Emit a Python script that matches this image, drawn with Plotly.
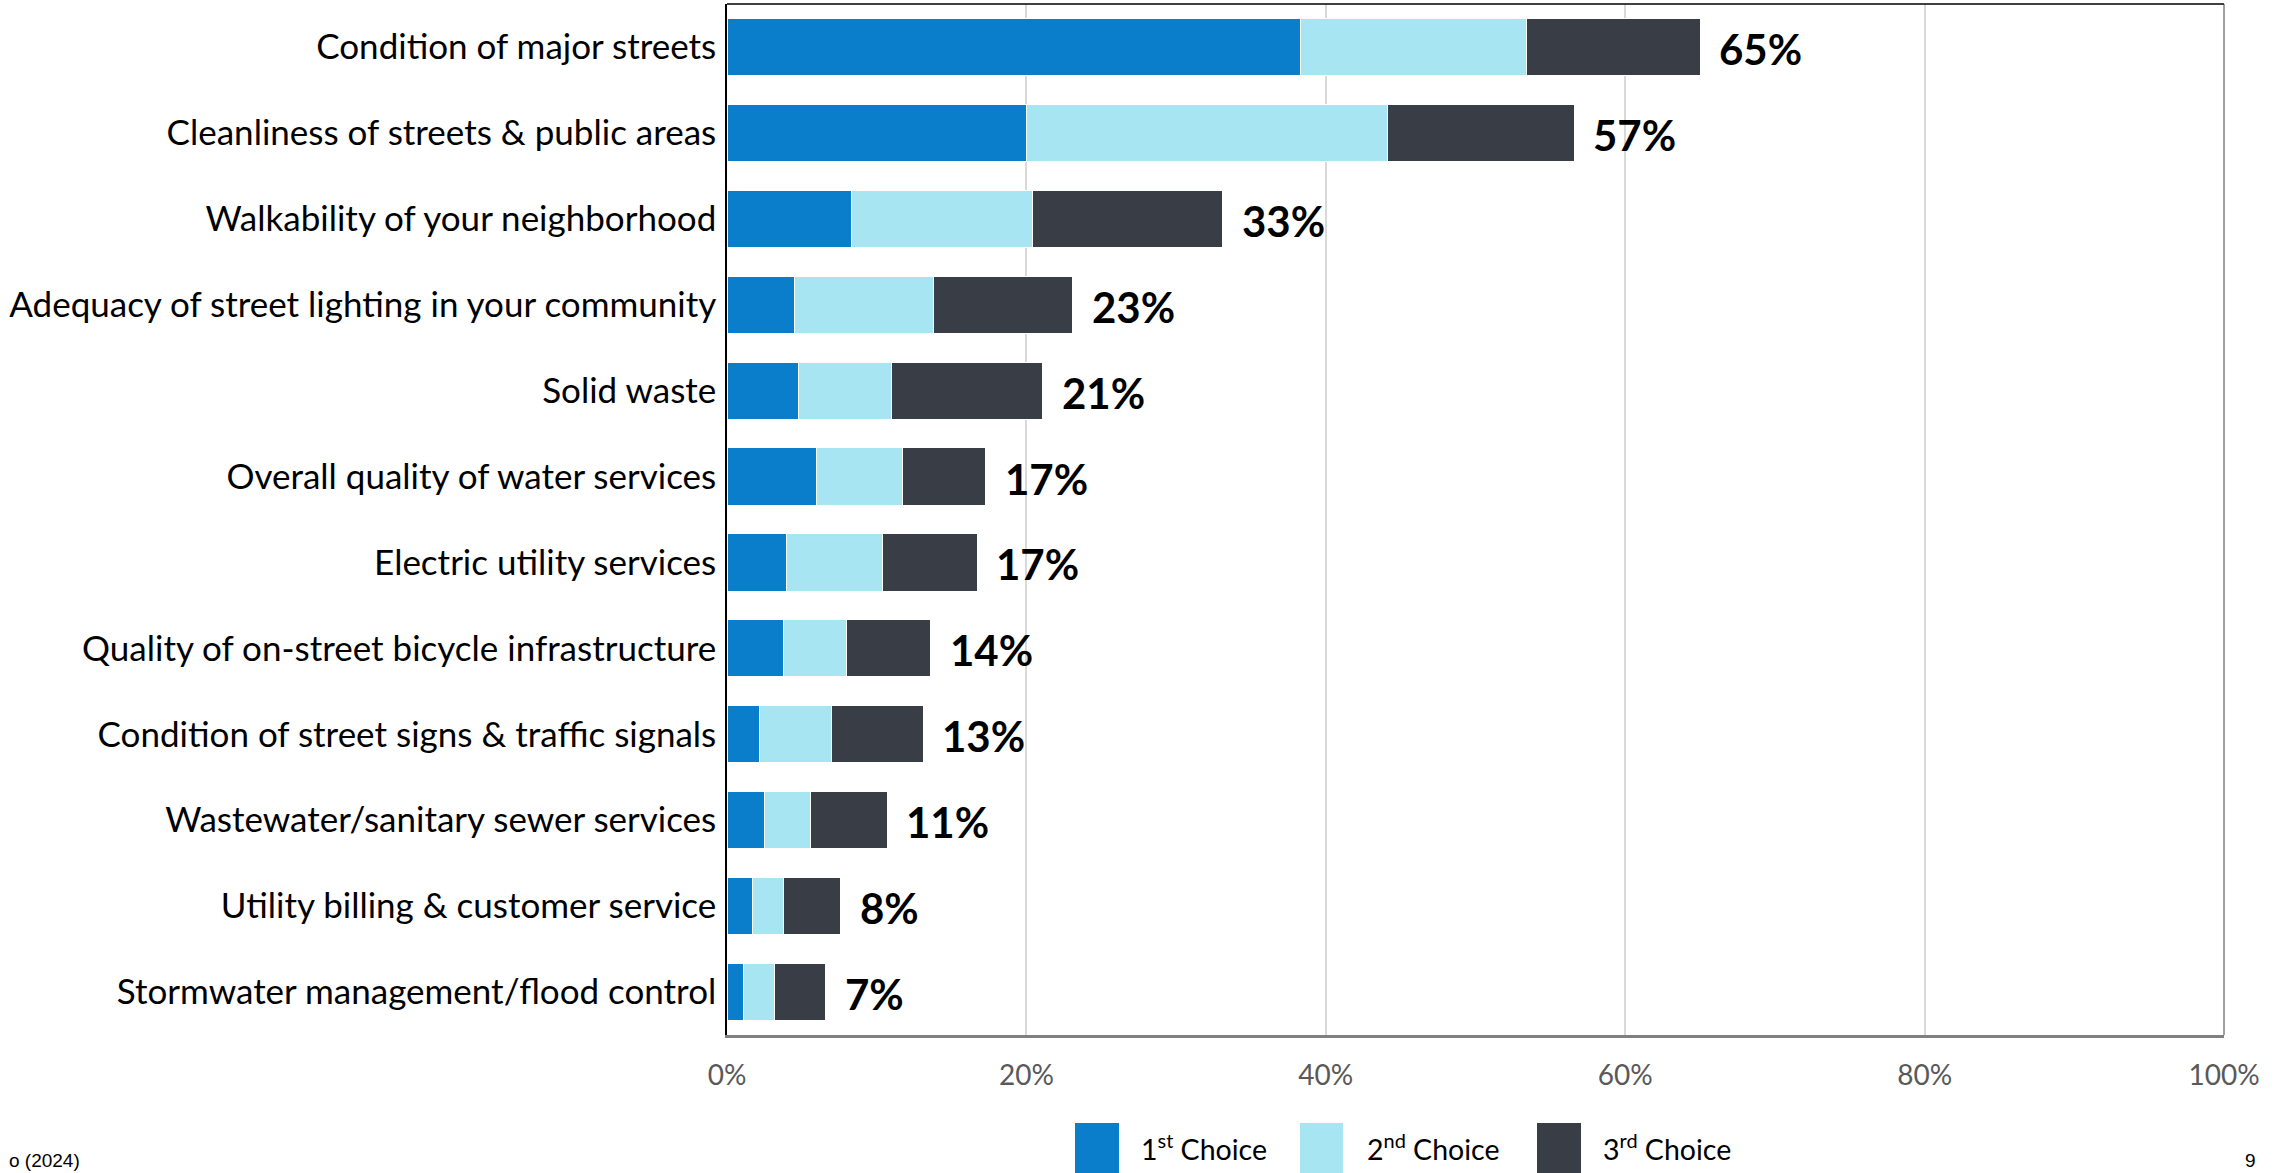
import plotly.graph_objects as go

# Service areas, top to bottom
categories = [
    "Condition of major streets",
    "Cleanliness of streets & public areas",
    "Walkability of your neighborhood",
    "Adequacy of street lighting in your community",
    "Solid waste",
    "Overall quality of water services",
    "Electric utility services",
    "Quality of on-street bicycle infrastructure",
    "Condition of street signs & traffic signals",
    "Wastewater/sanitary sewer services",
    "Utility billing & customer service",
    "Stormwater management/flood control",
]

# Share of respondents (%) picking each item as their 1st / 2nd / 3rd choice
first_choice = [38.3, 20.0, 8.3, 4.5, 4.8, 6.0, 4.0, 3.8, 2.2, 2.5, 1.7, 1.1]
second_choice = [15.1, 24.1, 12.1, 9.3, 6.2, 5.7, 6.4, 4.2, 4.8, 3.1, 2.1, 2.1]
third_choice = [11.6, 12.5, 12.7, 9.3, 10.1, 5.6, 6.3, 5.6, 6.1, 5.1, 3.8, 3.4]

series_names = ["1<sup>st</sup> Choice", "2<sup>nd</sup> Choice", "3<sup>rd</sup> Choice"]
series_colors = ["#0A7ECB", "#A8E5F3", "#393D45"]
x_ticks = [0, 20, 40, 60, 80, 100]

W, H = 2287, 1173
PLOT_L, PLOT_R, PLOT_T, PLOT_B = 727, 2224, 4, 1035


def px_x(px):
    return (px - PLOT_L) / (PLOT_R - PLOT_L)


def px_y(py):
    return (PLOT_B - py) / (PLOT_B - PLOT_T)


fig = go.Figure()
for name, vals, color in zip(series_names,
                             [first_choice, second_choice, third_choice],
                             series_colors):
    fig.add_trace(go.Bar(
        y=categories, x=vals, orientation="h", name=name,
        marker=dict(color=color, line=dict(color="#ffffff", width=1)),
        showlegend=False, hoverinfo="x+y",
    ))

# Total share label at the end of each stacked bar
totals = [a + b + c for a, b, c in zip(first_choice, second_choice, third_choice)]
for cat, tot in zip(categories, totals):
    fig.add_annotation(
        x=tot, y=cat, xref="x", yref="y", text=f"<b>{tot:.0f}%</b>",
        showarrow=False, xanchor="left", yanchor="middle", xshift=17, yshift=-2,
        font=dict(family="Lato", size=42, color="#000000"),
    )

shapes = [
    # frame: top and right edges of the plot box
    dict(type="line", xref="paper", yref="paper", x0=0, x1=1, y0=1, y1=1,
         line=dict(color="#000000", width=1.5)),
    dict(type="line", xref="paper", yref="paper", x0=1, x1=1, y0=0, y1=1,
         line=dict(color="#404040", width=1)),
]

# Legend drawn as tall swatches with labels underneath the axis
legend_items = [
    (1075, 1119, 1139),
    (1300, 1343, 1365),
    (1537, 1581, 1601),
]
for (sx0, sx1, tx), name, color in zip(legend_items, series_names, series_colors):
    shapes.append(dict(type="rect", xref="paper", yref="paper",
                       x0=px_x(sx0), x1=px_x(sx1), y0=px_y(1123), y1=px_y(1200),
                       fillcolor=color, line=dict(width=0)))
    fig.add_annotation(x=px_x(tx), y=px_y(1147), xref="paper", yref="paper",
                       text=name, showarrow=False, xanchor="left", yanchor="middle",
                       font=dict(family="Lato", size=28.5, color="#000000"))

# Page footer
fig.add_annotation(x=px_x(82), y=px_y(1173), xref="paper", yref="paper",
                   text="o (2024)", showarrow=False, xanchor="right", yanchor="bottom",
                   font=dict(family="Liberation Sans", size=19, color="#000000"))
fig.add_annotation(x=px_x(2250), y=px_y(1173), xref="paper", yref="paper",
                   text="9", showarrow=False, xanchor="center", yanchor="bottom",
                   font=dict(family="Liberation Sans", size=19, color="#000000"))

fig.update_layout(
    width=W, height=H,
    margin=dict(l=PLOT_L, r=W - PLOT_R, t=PLOT_T, b=H - PLOT_B, autoexpand=False),
    barmode="stack", bargap=0.335,
    plot_bgcolor="#ffffff", paper_bgcolor="#ffffff",
    shapes=shapes,
    font=dict(family="Lato", color="#000000"),
)
fig.update_xaxes(
    range=[0, 100], tickvals=x_ticks, ticktext=[f"{v}%" for v in x_ticks],
    showgrid=True, gridcolor="#D9D9D9", gridwidth=1.5,
    showline=True, linecolor="#808080", linewidth=2.5,
    zeroline=False, ticks="", ticklabelstandoff=14,
    tickfont=dict(family="Lato", size=28, color="#595959"),
    fixedrange=True,
)
fig.update_yaxes(
    categoryorder="array", categoryarray=categories,
    range=[len(categories) - 0.5, -0.5],
    showline=True, linecolor="#000000", linewidth=1.5,
    showgrid=False, ticks="", ticklabelstandoff=2,
    tickfont=dict(family="Lato", size=35, color="#000000"),
    fixedrange=True,
)

fig.write_html("out.html")
